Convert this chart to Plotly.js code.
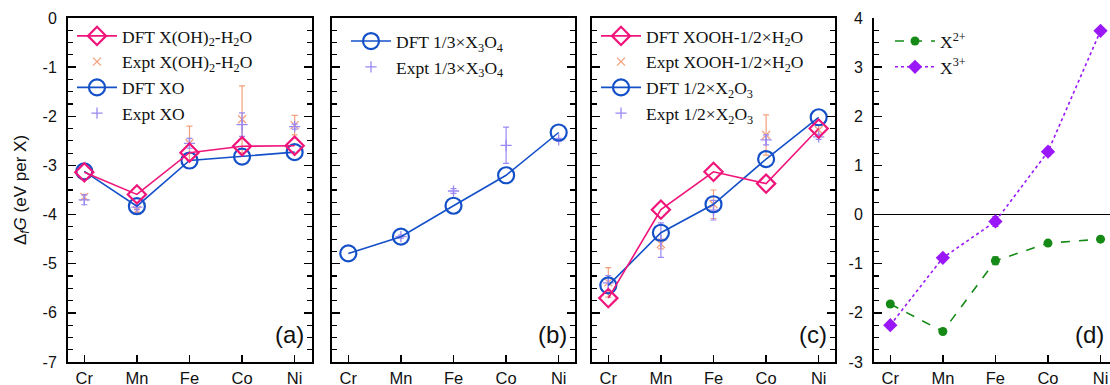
<!DOCTYPE html>
<html>
<head>
<meta charset="utf-8">
<script src="https://cdn.plot.ly/plotly-3.0.1.min.js"></script>
<style>
html,body{margin:0;padding:0;background:#fff;overflow:hidden;}
#chart{width:1110px;height:385px;}
</style>
</head>
<body>
<div id="chart"></div>
<script>
// ---- data ----
const elements = ['Cr', 'Mn', 'Fe', 'Co', 'Ni'];

// panel (a)
const dftHydroxide = [-3.14, -3.59, -2.74, -2.61, -2.60];
const exptHydroxide = [-3.64, -3.91, -2.55, -2.06, -2.18];
const errHydroxide = [0.05, 0.05, 0.35, 0.68, 0.20];
const dftMonoxide = [-3.12, -3.83, -2.90, -2.82, -2.73];
const exptMonoxide = [-3.70, -3.85, -2.55, -2.17, -2.21];
const errMonoxide = [0.10, 0.05, 0.10, 0.24, 0.05];

// panel (b)
const dftSpinel = [-4.79, -4.45, -3.82, -3.20, -2.33];
const exptSpinel = [null, -4.45, -3.52, -2.59, -2.48];
const errSpinel = [0, 0.03, 0.05, 0.37, 0.03];

// panel (c)
const dftOxyhydroxide = [-5.70, -3.90, -3.13, -3.37, -2.25];
const exptOxyhydroxide = [-5.38, -4.60, -3.79, -2.38, -2.28];
const errOxyhydroxide = [0.30, 0.10, 0.29, 0.41, 0.10];
const dftSesquioxide = [-5.44, -4.37, -3.79, -2.87, -2.02];
const exptSesquioxide = [-5.39, -4.52, -3.91, -2.48, -2.42];
const errSesquioxide = [0.15, 0.35, 0.20, 0.10, 0.05];

// panel (d)
const ion2 = [-1.82, -2.38, -0.94, -0.58, -0.50];
const errIon2 = [0.03, 0.03, 0.08, 0.03, 0.03];
const ion3 = [-2.25, -0.88, -0.14, 1.28, 3.74];
const errIon3 = [0.03, 0.03, 0.10, 0.08, 0.03];

// tick labels
const tickValsLeft = [0, -1, -2, -3, -4, -5, -6, -7];
const tickTextLeft = ['0', '-1', '-2', '-3', '-4', '-5', '-6', '-7'];
const tickValsRight = [4, 3, 2, 1, 0, -1, -2, -3];
const tickTextRight = ['4', '3', '2', '1', '0', '-1', '-2', '-3'];

const panelLabels = ['(a)', '(b)', '(c)', '(d)'];

// ---- styles ----
const PINK = '#f0157a';
const BLUE = '#1450c8';
const ORANGE = '#f4a07c';
const LAV = '#9a88f4';
const GREEN = '#168a16';
const VIOLET = '#9a18f8';

function dft(y, name, color, symbol, size, xa, ya, legend, rank) {
  return {
    x: elements, y: y, name: name, type: 'scatter', mode: 'lines+markers',
    xaxis: xa, yaxis: ya, legend: legend, legendrank: rank,
    line: {color: color, width: 1.6},
    marker: {symbol: symbol, size: size, color: color, line: {color: color, width: 2.2}}
  };
}
function expt(y, err, name, color, symbol, xa, ya, legend, rank) {
  return {
    x: elements, y: y, name: name, type: 'scatter', mode: 'markers',
    xaxis: xa, yaxis: ya, legend: legend, legendrank: rank,
    marker: {symbol: symbol, size: 8, color: color, line: {color: color, width: 1.3}},
    error_y: {type: 'data', array: err, visible: true, color: color, thickness: 1.2, width: 3}
  };
}

const traces = [
  // (a)
  expt(exptHydroxide, errHydroxide, 'Expt X(OH)<sub>2</sub>-H<sub>2</sub>O', ORANGE, 'x-thin-open', 'x', 'y', 'legend', 2),
  expt(exptMonoxide, errMonoxide, 'Expt XO', LAV, 'cross-thin-open', 'x', 'y', 'legend', 4),
  dft(dftMonoxide, 'DFT XO', BLUE, 'circle-open', 16, 'x', 'y', 'legend', 3),
  dft(dftHydroxide, 'DFT X(OH)<sub>2</sub>-H<sub>2</sub>O', PINK, 'diamond-open', 14, 'x', 'y', 'legend', 1),
  // (b)
  expt(exptSpinel, errSpinel, 'Expt 1/3×X<sub>3</sub>O<sub>4</sub>', LAV, 'cross-thin-open', 'x2', 'y2', 'legend2', 2),
  dft(dftSpinel, 'DFT 1/3×X<sub>3</sub>O<sub>4</sub>', BLUE, 'circle-open', 16, 'x2', 'y2', 'legend2', 1),
  // (c)
  expt(exptOxyhydroxide, errOxyhydroxide, 'Expt XOOH-1/2×H<sub>2</sub>O', ORANGE, 'x-thin-open', 'x3', 'y3', 'legend3', 2),
  expt(exptSesquioxide, errSesquioxide, 'Expt 1/2×X<sub>2</sub>O<sub>3</sub>', LAV, 'cross-thin-open', 'x3', 'y3', 'legend3', 4),
  dft(dftSesquioxide, 'DFT 1/2×X<sub>2</sub>O<sub>3</sub>', BLUE, 'circle-open', 16, 'x3', 'y3', 'legend3', 3),
  dft(dftOxyhydroxide, 'DFT XOOH-1/2×H<sub>2</sub>O', PINK, 'diamond-open', 14, 'x3', 'y3', 'legend3', 1),
  // (d)
  {x: elements, y: ion2, name: 'X<sup>2+</sup>', type: 'scatter', mode: 'lines+markers',
   xaxis: 'x4', yaxis: 'y4', legend: 'legend4', legendrank: 1,
   line: {color: GREEN, width: 1.6, dash: 'dash'},
   marker: {symbol: 'circle', size: 9, color: GREEN},
   error_y: {type: 'data', array: errIon2, visible: true, color: GREEN, thickness: 1.2, width: 3}},
  {x: elements, y: ion3, name: 'X<sup>3+</sup>', type: 'scatter', mode: 'lines+markers',
   xaxis: 'x4', yaxis: 'y4', legend: 'legend4', legendrank: 2,
   line: {color: VIOLET, width: 1.6, dash: 'dot'},
   marker: {symbol: 'diamond', size: 11, color: VIOLET},
   error_y: {type: 'data', array: errIon3, visible: true, color: VIOLET, thickness: 1.2, width: 3}}
];

const W = 1110;
const tickFont = {family: 'Liberation Sans, Arial, sans-serif', size: 16, color: '#111'};

function xax(d0, d1, r1, mirror) {
  return {
    type: 'category', domain: [d0 / W, d1 / W], range: [-0.31, r1],
    showline: true, linecolor: '#000', linewidth: 2, mirror: mirror,
    ticks: 'inside', ticklen: 7, tickwidth: 1.5, tickcolor: '#000',
    tickfont: Object.assign({}, tickFont, {size: 16.5}),
    showgrid: false, zeroline: false, fixedrange: true
  };
}
function yax(anchor, range, labels, mirror, vals, text) {
  return {
    anchor: anchor, range: range, domain: [0, 1],
    showline: true, linecolor: '#000', linewidth: 2, mirror: mirror,
    ticks: 'inside', ticklen: 8, tickwidth: 1.5, tickcolor: '#000',
    tickmode: 'array', tickvals: vals, ticktext: text,
    minor: {dtick: 0.25, ticks: 'inside', ticklen: 5, tickwidth: 1.2, tickcolor: '#000'},
    showticklabels: labels, tickfont: tickFont, ticklabelstandoff: 6,
    showgrid: false, zeroline: false, fixedrange: true
  };
}

const legendBase = {
  bgcolor: 'rgba(0,0,0,0)', borderwidth: 0, xanchor: 'left', yanchor: 'top',
  traceorder: 'normal', tracegroupgap: 0, itemwidth: 40,
  font: {family: 'Liberation Serif, Times New Roman, serif', size: 17.5, color: '#111'}
};

const layout = {
  width: 1110, height: 385,
  margin: {l: 0, r: 0, t: 18, b: 23},
  paper_bgcolor: '#fff', plot_bgcolor: '#fff',
  showlegend: true,
  xaxis: xax(68, 312, 4.33, true),
  xaxis2: Object.assign(xax(332, 575, 4.31, true), {anchor: 'y2'}),
  xaxis3: Object.assign(xax(592, 835, 4.31, true), {anchor: 'y3'}),
  xaxis4: Object.assign(xax(874, 1110, 4.18, false), {anchor: 'y4'}),
  yaxis: Object.assign(yax('x', [-7, 0], true, 'ticks', tickValsLeft, tickTextLeft), {
    title: {text: 'Δ<sub><i>f</i></sub><i>G</i> (eV per X)', standoff: 12,
            font: {family: 'Liberation Sans, Arial, sans-serif', size: 17, color: '#111'}}
  }),
  yaxis2: yax('x2', [-7, 0], false, 'ticks', tickValsLeft, tickTextLeft),
  yaxis3: yax('x3', [-7, 0], false, 'ticks', tickValsLeft, tickTextLeft),
  yaxis4: Object.assign(yax('x4', [-3, 4], true, false, tickValsRight, tickTextRight), {
    zeroline: true, zerolinecolor: '#000', zerolinewidth: 1.2
  }),
  legend: Object.assign({}, legendBase, {x: 72 / W, y: 1.0}),
  legend2: Object.assign({}, legendBase, {x: 346 / W, y: 0.985}),
  legend3: Object.assign({}, legendBase, {x: 596 / W, y: 1.0}),
  legend4: Object.assign({}, legendBase, {x: 890 / W, y: 0.985}),
  annotations: panelLabels.map((t, i) => ({
    text: t, xref: (i === 0 ? 'x' : 'x' + (i + 1)) + ' domain', yref: 'paper',
    x: i === 3 ? 0.985 : 0.975, y: 0.035, xanchor: 'right', yanchor: 'bottom', showarrow: false,
    font: {family: 'Liberation Sans, Arial, sans-serif', size: 24, color: '#111'}
  }))
};

Plotly.newPlot('chart', traces, layout, {displayModeBar: false, staticPlot: true});
</script>
</body>
</html>
